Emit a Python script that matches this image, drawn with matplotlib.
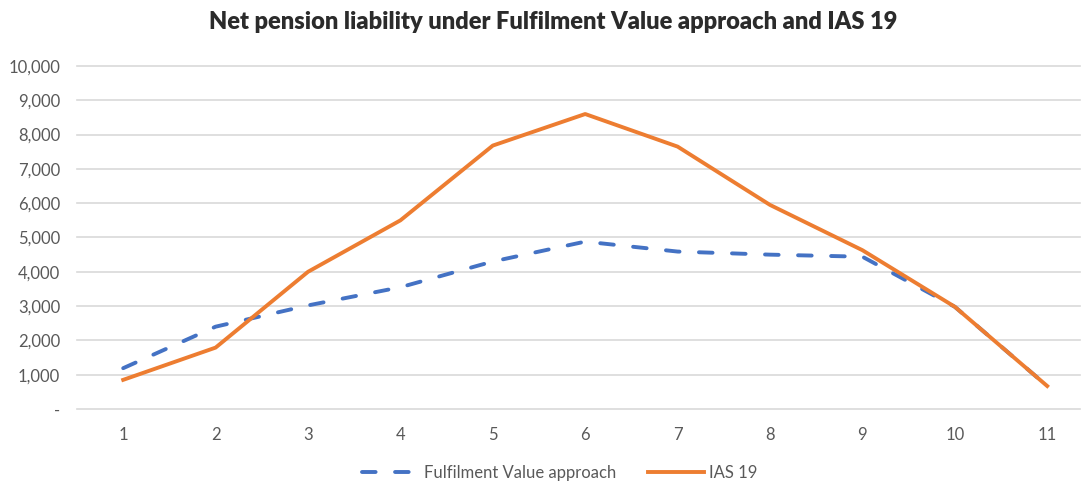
import matplotlib.pyplot as plt
from matplotlib.ticker import FuncFormatter

# данные
years = [1, 2, 3, 4, 5, 6, 7, 8, 9, 10, 11]
fulfilment = [1190, 2400, 3020, 3550, 4300, 4880, 4590, 4500, 4440, 2980, 670]
ias19 = [850, 1790, 4000, 5500, 7680, 8600, 7650, 5950, 4630, 2980, 670]

plt.rcParams['font.family'] = ['Lato', 'DejaVu Sans']

fig = plt.figure(figsize=(10.84, 4.82), dpi=100)
ax = fig.add_axes([77/1084, 73/482, 1003/1084, 343/482])

ax.plot(years, fulfilment, color='#4472C4', linewidth=2.8,
        linestyle=(0, (3.5, 5)), dash_capstyle='round',
        label='Fulfilment Value approach', zorder=3)
ax.plot(years, ias19, color='#ED7D31', linewidth=2.8,
        label='IAS 19', zorder=4)

ax.set_xlim(0.5, 0.5 + 1003/92.4)
ax.set_ylim(0, 10000)
ax.set_yticks(range(0, 10001, 1000))
ax.set_xticks(years)
ax.yaxis.set_major_formatter(FuncFormatter(lambda v, p: '-' if v == 0 else f'{v:,.0f}'))

# сетка
ax.grid(axis='y', color='#d9d9d9', linewidth=1.2)
ax.grid(axis='x', visible=False)
for gl in ax.get_ygridlines():
    gl.set_clip_on(False)
for s in ax.spines.values():
    s.set_visible(False)
ax.tick_params(axis='both', length=0, labelsize=12, labelcolor='#595959')
ax.tick_params(axis='y', pad=12)
ax.tick_params(axis='x', pad=13)

fig.suptitle('Net pension liability under Fulfilment Value approach and IAS 19',
             x=553/1084, y=1 - 22/482, va='center', fontsize=17,
             fontweight='heavy', color='#2b2b2b')

fig.legend(loc='center', bbox_to_anchor=(560/1084, 1 - 473/482), ncol=2,
           frameon=False, fontsize=12, handlelength=3.4, columnspacing=1.9,
           labelcolor='#595959', handletextpad=0.3)

fig.savefig('out.png', dpi=100)
